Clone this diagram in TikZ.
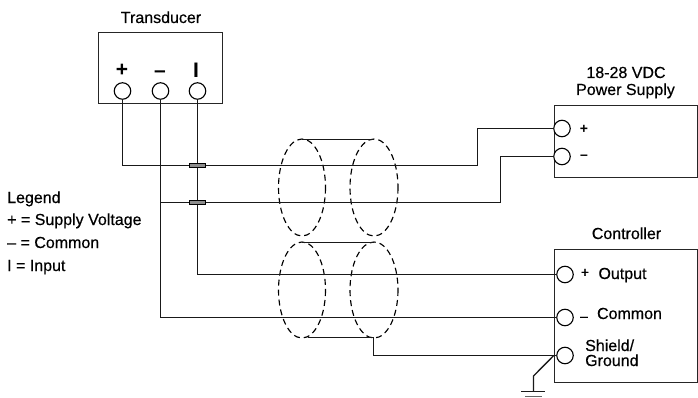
\documentclass[tikz,border=0pt]{standalone}
\usepackage{fontspec}
\setmainfont[FakeBold=0.4]{Liberation Sans}
\newfontfamily\symfont{Liberation Sans Bold}
\tikzset{
  wire/.style={line width=1.35pt,black!90,line join=miter},
  boxs/.style={draw=black!85,line width=1.35pt,fill=white,inner sep=0pt,outer sep=0pt},
  term/.style={circle,draw=black,line width=1.1pt,fill=white,minimum size=16.5pt,inner sep=0pt,outer sep=0pt},
  clip1/.style={rectangle,draw=black,line width=1.1pt,fill=black!45,minimum width=16pt,minimum height=4pt,inner sep=0pt},
  shell/.style={draw=black,line width=1.15pt,dash pattern=on 6pt off 4pt},
  txt/.style={font=\fontsize{16}{16}\selectfont,inner sep=0pt,text=black},
  symb/.style={font=\fontsize{21}{21}\symfont,inner sep=0pt,text=black},
  syms/.style={font=\fontsize{14}{14}\symfont,inner sep=0pt,text=black},
  symr/.style={font=\fontsize{14}{14}\selectfont,inner sep=0pt,text=black}
}
\begin{document}
\begin{tikzpicture}[x=1pt,y=-1pt]
\useasboundingbox (0,0) rectangle (698,398);
% boxes
\node[boxs,minimum width=124pt,minimum height=71pt,anchor=north west] (tbox) at (98.5,32.5) {};
\node[boxs,minimum width=143pt,minimum height=72pt,anchor=north west] (pbox) at (554.5,105.5) {};
\node[boxs,minimum width=143pt,minimum height=133pt,anchor=north west] (cbox) at (554.5,249.5) {};
% terminals
\node[term] (tp) at (122.5,91) {};
\node[term] (tm) at (160.5,91) {};
\node[term] (ti) at (197.5,91) {};
\node[term] (pp) at (562,128.5) {};
\node[term] (pm) at (562,156.5) {};
\node[term] (co) at (565,274.5) {};
\node[term] (cc) at (565,317.5) {};
\node[term] (cs) at (565,355.5) {};
% helper coordinates
\coordinate (j1) at (197.5,165.5);
\coordinate (j2) at (197.5,202.5);
\coordinate (gtop) at (533.5,376);
\coordinate (gbot) at (533.5,391.5);
\coordinate (g1a) at (521,391.5);
\coordinate (g1b) at (545,391.5);
\coordinate (g2a) at (525,396.8);
\coordinate (g2b) at (542,396.8);
\coordinate (sbend) at (373.5,337.5);
\coordinate (sleft) at (308,337.5);
\coordinate (st1a) at (302,139.5);
\coordinate (st1b) at (374,139.5);
\coordinate (st2a) at (302,242.5);
\coordinate (st2b) at (374,242.5);
% shield outlines
\draw[shell] (302,187.5) ellipse [x radius=23.5,y radius=48.5];
\draw[shell] (374,187.5) ellipse [x radius=24,y radius=48.5];
\draw[shell] (302,290) ellipse [x radius=23.5,y radius=48];
\draw[shell] (374,290) ellipse [x radius=24,y radius=48];
\draw[wire] (st1a) -- (st1b);
\draw[wire] (st2a) -- (st2b);
% wires
\draw[wire] (tp.south) |- (477.5,165.5) |- (pp.west);
\draw[wire] (tm.south) |- (500.5,202.5) |- (pm.west);
\draw[wire] (tm.south) |- (cc.west);
\draw[wire] (ti.south) |- (co.west);
\draw[wire] (sleft) -- (sbend) |- (cs.west);
\draw[wire] (cs.west) ++(-3,0) -- (gtop) -- (gbot);
\draw[wire] (g1a) -- (g1b);
\draw[wire,black!60] (g2a) -- (g2b);
% crossing clips
\node[clip1] (c1) at (j1) {};
\node[clip1] (c2) at (j2) {};
% labels
\node[txt,anchor=base] (ltrans) at (161,23) {Transducer};
\node[txt,anchor=base] (lp1) at (626,78) {18-28 VDC};
\node[txt,anchor=base] (lp2) at (625.5,95) {Power Supply};
\node[txt,anchor=base] (lctrl) at (626.5,239) {Controller};
\node[symb,anchor=base] (st) at (122,77) {+};
\node[symb,anchor=base] (sm) at (160,78) {–};
\node[symb,anchor=base] (si) at (196,78) {I};
\node[syms,anchor=base] (spp) at (584,134) {+};
\node[syms,anchor=base] (spm) at (584,160) {–};
\node[symr,anchor=base] (lcp) at (585,277) {+};
\node[txt,anchor=base] (lout) at (622.5,279) {Output};
\node[symr,anchor=base] (lcm) at (584,321) {–};
\node[txt,anchor=base] (lcom) at (629.5,319) {Common};
\node[txt,anchor=base west] (lsh) at (585,351) {Shield/};
\node[txt,anchor=base west] (lgr) at (585,366) {Ground};
\node[txt,anchor=base west] (lg1) at (7,203) {Legend};
\node[txt,anchor=base west] (lg2) at (7,225) {+ = Supply Voltage};
\node[txt,anchor=base west] (lg3) at (7,248) {– = Common};
\node[txt,anchor=base west] (lg4) at (7,271) {I = Input};
\end{tikzpicture}
\end{document}
